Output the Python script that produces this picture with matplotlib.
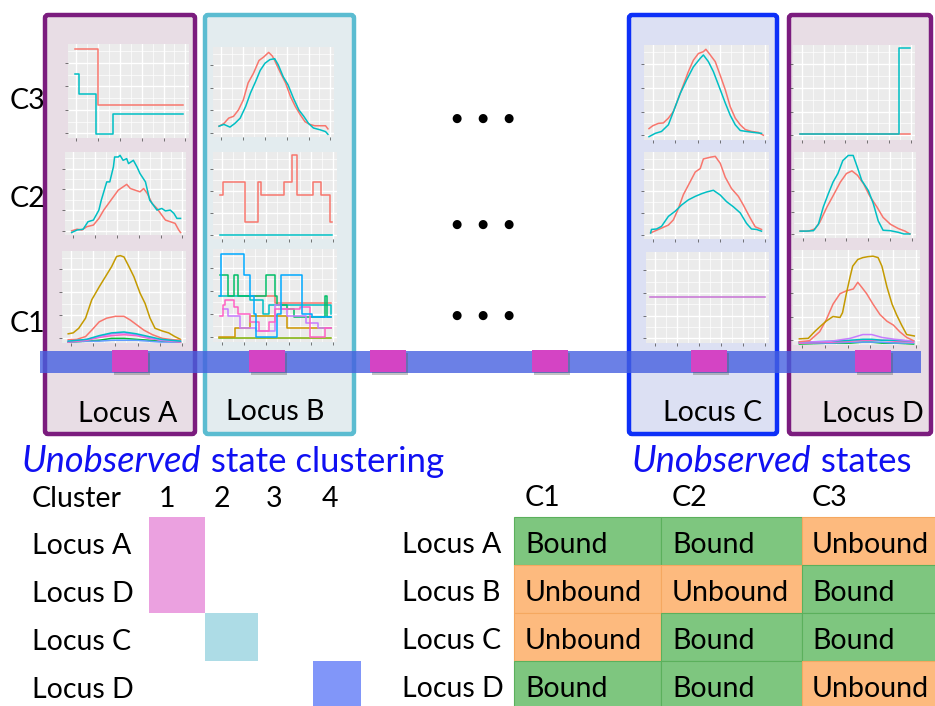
import matplotlib
matplotlib.use("Agg")
import matplotlib.pyplot as plt
from matplotlib.patches import Rectangle, FancyBboxPatch

plt.rcParams['font.family'] = ['Lato', 'DejaVu Sans']

W, H = 935, 706
RED = '#F8766D'
CYAN = '#00BFC4'

# ---------- data (x, y as fraction of panel) ----------
# Locus A
a3_red_x = [0.06, 0.25, 0.95]
a3_red_y = [0.95, 0.35, 0.35]
a3_cyan_x = [0.06, 0.09, 0.23, 0.37, 0.95]
a3_cyan_y = [0.68, 0.47, 0.04, 0.26, 0.26]

a2_cyan_x = [0.055, 0.10, 0.15, 0.19, 0.235, 0.28, 0.30, 0.345, 0.37, 0.40, 0.41, 0.44, 0.455, 0.48,
             0.51, 0.525, 0.565, 0.595, 0.62, 0.665, 0.70, 0.73, 0.76, 0.80, 0.83, 0.87, 0.90, 0.925, 0.955]
a2_cyan_y = [0.03, 0.06, 0.07, 0.16, 0.18, 0.30, 0.42, 0.64, 0.64, 0.82, 0.94, 0.94, 0.96, 0.90,
             0.92, 0.86, 0.90, 0.82, 0.74, 0.64, 0.42, 0.36, 0.30, 0.32, 0.29, 0.30, 0.26, 0.20, 0.20]
a2_red_x = [0.055, 0.10, 0.14, 0.18, 0.235, 0.28, 0.32, 0.36, 0.40, 0.44, 0.48, 0.51, 0.54, 0.58,
            0.62, 0.65, 0.68, 0.72, 0.76, 0.79, 0.83, 0.87, 0.91, 0.94, 0.955]
a2_red_y = [0.05, 0.07, 0.06, 0.10, 0.12, 0.20, 0.30, 0.38, 0.46, 0.54, 0.58, 0.61, 0.56, 0.54,
            0.52, 0.56, 0.50, 0.38, 0.32, 0.26, 0.18, 0.16, 0.14, 0.06, 0.03]

a1_gold_x = [0.05, 0.09, 0.135, 0.19, 0.24, 0.30, 0.35, 0.40, 0.44, 0.47, 0.50, 0.54, 0.58, 0.63,
             0.67, 0.71, 0.75, 0.81, 0.86, 0.91, 0.955]
a1_gold_y = [0.10, 0.11, 0.16, 0.27, 0.47, 0.61, 0.72, 0.83, 0.94, 0.95, 0.935, 0.83, 0.72, 0.54,
             0.43, 0.27, 0.16, 0.13, 0.11, 0.07, 0.04]
a1_red_x = [0.05, 0.12, 0.19, 0.24, 0.30, 0.36, 0.43, 0.50, 0.55, 0.60, 0.66, 0.73, 0.81, 0.90, 0.955]
a1_red_y = [0.035, 0.04, 0.07, 0.14, 0.23, 0.27, 0.29, 0.29, 0.25, 0.20, 0.14, 0.09, 0.05, 0.035, 0.03]
a1_small_x = [0.05, 0.2, 0.3, 0.4, 0.5, 0.6, 0.7, 0.8, 0.955]
a1_cyan_y = [0.02, 0.04, 0.08, 0.11, 0.12, 0.10, 0.07, 0.04, 0.02]
a1_purple_y = [0.02, 0.04, 0.07, 0.10, 0.11, 0.09, 0.06, 0.03, 0.02]
a1_pink_y = [0.01, 0.03, 0.06, 0.08, 0.09, 0.08, 0.05, 0.03, 0.01]
a1_green_y = [0.01, 0.02, 0.03, 0.05, 0.05, 0.04, 0.03, 0.02, 0.01]
a1_blue_y = [0.01, 0.02, 0.02, 0.03, 0.03, 0.03, 0.02, 0.01, 0.01]

# Locus B
b3_red_x = [0.05, 0.09, 0.13, 0.17, 0.21, 0.25, 0.29, 0.335, 0.38, 0.42, 0.46, 0.49, 0.51, 0.555,
            0.60, 0.64, 0.68, 0.72, 0.76, 0.80, 0.84, 0.885, 0.93, 0.95]
b3_red_y = [0.12, 0.15, 0.21, 0.23, 0.30, 0.41, 0.60, 0.71, 0.85, 0.89, 0.94, 0.90, 0.85, 0.72,
            0.60, 0.45, 0.34, 0.25, 0.17, 0.14, 0.125, 0.125, 0.125, 0.09]
b3_cyan_x = [0.05, 0.09, 0.14, 0.18, 0.225, 0.27, 0.31, 0.35, 0.39, 0.43, 0.47, 0.51, 0.54, 0.58,
             0.62, 0.665, 0.71, 0.75, 0.79, 0.83, 0.885, 0.93, 0.95]
b3_cyan_y = [0.12, 0.14, 0.11, 0.15, 0.21, 0.34, 0.49, 0.61, 0.74, 0.82, 0.86, 0.87, 0.80, 0.67,
             0.58, 0.43, 0.30, 0.23, 0.15, 0.10, 0.08, 0.06, 0.03]

b2_red_x = [0.06, 0.08, 0.26, 0.365, 0.39, 0.57, 0.635, 0.675, 0.805, 0.87, 0.94, 0.96]
b2_red_y = [0.51, 0.66, 0.20, 0.66, 0.51, 0.66, 0.96, 0.51, 0.66, 0.51, 0.20, 0.20]
b2_cyan_x = [0.06, 0.96]
b2_cyan_y = [0.05, 0.05]

b1_blue_x = [0.06, 0.065, 0.25, 0.30, 0.33, 0.35, 0.52, 0.55, 0.68, 0.72, 0.80, 0.95]
b1_blue_y = [0.49, 0.95, 0.72, 0.49, 0.30, 0.05, 0.30, 0.72, 0.72, 0.30, 0.27, 0.27]
b1_green_x = [0.06, 0.12, 0.17, 0.20, 0.25, 0.43, 0.50, 0.52, 0.60, 0.65, 0.90, 0.92, 0.95]
b1_green_y = [0.72, 0.49, 0.72, 0.49, 0.49, 0.72, 0.49, 0.40, 0.35, 0.27, 0.49, 0.27, 0.27]
b1_cyan_x = [0.05, 0.30, 0.40, 0.45, 0.60, 0.95]
b1_cyan_y = [0.49, 0.45, 0.30, 0.40, 0.40, 0.30]
b1_red_x = [0.34, 0.45, 0.50, 0.95]
b1_red_y = [0.50, 0.50, 0.42, 0.42]
b1_pink_x = [0.06, 0.08, 0.10, 0.17, 0.20, 0.30, 0.37, 0.45, 0.50, 0.70, 0.78, 0.90, 0.95]
b1_pink_y = [0.28, 0.40, 0.45, 0.38, 0.30, 0.22, 0.12, 0.22, 0.35, 0.38, 0.05, 0.15, 0.15]
b1_purple_x = [0.08, 0.12, 0.18, 0.22, 0.25, 0.35, 0.50, 0.55, 0.60, 0.75, 0.85, 0.95]
b1_purple_y = [0.35, 0.28, 0.28, 0.15, 0.15, 0.12, 0.40, 0.35, 0.28, 0.20, 0.15, 0.15]
b1_gold_x = [0.05, 0.16, 0.18, 0.28, 0.30, 0.43, 0.60, 0.95]
b1_gold_y = [0.05, 0.05, 0.15, 0.15, 0.28, 0.28, 0.15, 0.15]
b1_olive_x = [0.05, 0.95]
b1_olive_y = [0.04, 0.04]

# Locus C
c3_red_x = [0.04, 0.07, 0.115, 0.155, 0.195, 0.235, 0.275, 0.315, 0.355, 0.395, 0.435, 0.475, 0.495,
            0.53, 0.57, 0.61, 0.65, 0.69, 0.73, 0.77, 0.81, 0.86, 0.915, 0.955]
c3_red_y = [0.12, 0.15, 0.175, 0.18, 0.23, 0.30, 0.44, 0.58, 0.72, 0.84, 0.91, 0.93, 0.955,
            0.895, 0.825, 0.68, 0.53, 0.35, 0.23, 0.16, 0.11, 0.09, 0.08, 0.05]
c3_cyan_x = [0.04, 0.09, 0.14, 0.195, 0.25, 0.29, 0.34, 0.395, 0.45, 0.475, 0.515, 0.555, 0.61,
             0.65, 0.69, 0.73, 0.77, 0.82, 0.875, 0.94]
c3_cyan_y = [0.035, 0.07, 0.09, 0.16, 0.35, 0.49, 0.63, 0.77, 0.86, 0.895, 0.825, 0.72, 0.53,
             0.39, 0.26, 0.16, 0.10, 0.09, 0.08, 0.07]

c2_red_x = [0.053, 0.10, 0.14, 0.195, 0.235, 0.275, 0.315, 0.37, 0.41, 0.45, 0.475, 0.53, 0.57,
            0.61, 0.65, 0.70, 0.755, 0.795, 0.85, 0.89, 0.94]
c2_red_y = [0.07, 0.10, 0.125, 0.16, 0.22, 0.35, 0.51, 0.66, 0.77, 0.81, 0.92, 0.94, 0.95,
            0.87, 0.71, 0.58, 0.49, 0.39, 0.24, 0.14, 0.11]
c2_cyan_x = [0.053, 0.06, 0.10, 0.14, 0.195, 0.25, 0.30, 0.355, 0.41, 0.46, 0.50, 0.555, 0.61,
             0.66, 0.715, 0.77, 0.82, 0.86, 0.90, 0.94]
c2_cyan_y = [0.07, 0.11, 0.115, 0.145, 0.26, 0.32, 0.39, 0.45, 0.49, 0.52, 0.54, 0.56, 0.505,
             0.43, 0.37, 0.30, 0.18, 0.115, 0.11, 0.09]

c1_purple_x = [0.03, 0.97]
c1_purple_y = [0.505, 0.505]

# Locus D
d3_red_x = [0.055, 0.955]
d3_red_y = [0.063, 0.063]
d3_cyan_x = [0.055, 0.87, 0.955]
d3_cyan_y = [0.063, 0.965, 0.965]

d2_cyan_x = [0.05, 0.10, 0.16, 0.20, 0.24, 0.28, 0.32, 0.36, 0.40, 0.445, 0.485, 0.52, 0.555, 0.61,
             0.65, 0.69, 0.73, 0.79, 0.855, 0.90, 0.95]
d2_cyan_y = [0.08, 0.08, 0.085, 0.16, 0.36, 0.51, 0.65, 0.75, 0.90, 0.96, 0.96, 0.82, 0.67, 0.55,
             0.40, 0.20, 0.09, 0.085, 0.066, 0.047, 0.047]
d2_red_x = [0.05, 0.12, 0.17, 0.21, 0.27, 0.32, 0.38, 0.43, 0.475, 0.52, 0.57, 0.62, 0.68, 0.73,
            0.79, 0.855, 0.91, 0.95]
d2_red_y = [0.08, 0.08, 0.105, 0.18, 0.36, 0.49, 0.65, 0.75, 0.78, 0.73, 0.63, 0.49, 0.36, 0.24,
            0.16, 0.11, 0.08, 0.047]

d1_gold_x = [0.05, 0.12, 0.17, 0.21, 0.26, 0.315, 0.37, 0.39, 0.42, 0.45, 0.47, 0.51, 0.55, 0.59,
             0.63, 0.67, 0.70, 0.74, 0.78, 0.815, 0.855, 0.895, 0.935, 0.955]
d1_gold_y = [0.065, 0.07, 0.14, 0.19, 0.25, 0.30, 0.29, 0.34, 0.54, 0.72, 0.83, 0.90, 0.92, 0.93,
             0.935, 0.92, 0.83, 0.61, 0.43, 0.32, 0.21, 0.11, 0.10, 0.095]
d1_red_x = [0.05, 0.13, 0.21, 0.26, 0.315, 0.37, 0.42, 0.475, 0.51, 0.54, 0.58, 0.63, 0.685, 0.74,
            0.79, 0.84, 0.895, 0.95]
d1_red_y = [0.035, 0.045, 0.14, 0.26, 0.43, 0.54, 0.57, 0.59, 0.66, 0.61, 0.54, 0.43, 0.32, 0.25,
            0.21, 0.14, 0.08, 0.045]
d1_small_x = [0.05, 0.3, 0.45, 0.55, 0.62, 0.7, 0.8, 0.95]
d1_purple_y = [0.03, 0.04, 0.07, 0.11, 0.11, 0.08, 0.06, 0.04]
d1_cyan_y = [0.03, 0.04, 0.05, 0.06, 0.06, 0.05, 0.05, 0.04]
d1_pink_y = [0.02, 0.03, 0.04, 0.05, 0.05, 0.05, 0.04, 0.03]
d1_green_y = [0.01, 0.02, 0.02, 0.03, 0.03, 0.02, 0.02, 0.01]
d1_blue_y = [0.02, 0.02, 0.03, 0.03, 0.03, 0.03, 0.02, 0.02]

# ---------- tables ----------
cluster_labels = ['1', '2', '3', '4']
cluster_rows = ['Locus A', 'Locus D', 'Locus C', 'Locus D']
cluster_of_row = [1, 1, 2, 4]
cluster_colors = ['#EBA1E0', '#EBA1E0', '#ADDCE6', '#8196F9']

state_cols = ['C1', 'C2', 'C3']
state_rows = ['Locus A', 'Locus B', 'Locus C', 'Locus D']
states = [['Bound', 'Bound', 'Unbound'],
          ['Unbound', 'Unbound', 'Bound'],
          ['Unbound', 'Bound', 'Bound'],
          ['Bound', 'Bound', 'Unbound']]

# ---------- figure ----------
fig = plt.figure(figsize=(W / 100, H / 100), dpi=100)
ax = fig.add_axes([0, 0, 1, 1])
ax.set_xlim(0, W)
ax.set_ylim(H, 0)
ax.axis('off')

FS = 20.5

# locus boxes
boxes = [(45, 195, '#7B1C7E', '#E8DDE5', 'Locus A', 128, 422),
         (205, 354, '#5BBCD1', '#E3ECEF', 'Locus B', 275, 420),
         (629, 777, '#0D30F8', '#DCE0F3', 'Locus C', 713, 421),
         (789, 931, '#7B1C7E', '#E8DDE5', 'Locus D', 873, 422)]
for x0, x1, ec, fc, lab, tx, ty in boxes:
    ax.add_patch(FancyBboxPatch((x0, 15), x1 - x0, 419, boxstyle='round,pad=0,rounding_size=3',
                                fc=fc, ec=ec, lw=3.2, zorder=1))
    ax.text(tx, ty, lab, fontsize=FS, ha='center', va='baseline', zorder=5)

# genome bar with binding sites
ax.add_patch(Rectangle((40, 351), 881, 22, fc='#4660E0', alpha=0.8, lw=0, zorder=3))
for sx in [112, 249, 370, 532, 691, 855]:
    ax.add_patch(Rectangle((sx + 1.5, 352.5), 36, 22, fc='#555555', alpha=0.35, lw=0, zorder=3.5))
    ax.add_patch(Rectangle((sx, 350), 36, 22, fc='#D444C4', lw=0, zorder=4))

# C labels and ellipses
for lab, by, dy in [('C3', 109, 118), ('C2', 207, 224), ('C1', 332, 315)]:
    ax.text(10, by, lab, fontsize=FS, ha='left', va='baseline')
    for dx in [456, 482, 508]:
        ax.text(dx, dy, '\u25CF', family='DejaVu Sans', fontsize=8.5, ha='center', va='center')

# blue titles
BLUE = '#1010F2'
TFS = 25
t1 = ax.text(22, 472, 'Unobserved', fontsize=TFS + 1, style='italic', color=BLUE, va='baseline')
ax.annotate(' state clustering', xy=(1, 0), xycoords=t1, va='bottom', ha='left',
            fontsize=TFS, color=BLUE)
t2 = ax.text(632, 472, 'Unobserved', fontsize=TFS + 1, style='italic', color=BLUE, va='baseline')
ax.annotate(' states', xy=(1, 0), xycoords=t2, va='bottom', ha='left', fontsize=TFS, color=BLUE)

# cluster table
row_base = [554, 602, 650, 698]
row_top = [517, 565, 613, 661]
ax.text(32, 507, 'Cluster', fontsize=FS, va='baseline')
col_left = [149, 205, 258, 313]
col_w = [56, 53, 55, 48]
for lab, cx in zip(cluster_labels, [167, 222, 274, 330]):
    ax.text(cx, 507, lab, fontsize=FS, ha='center', va='baseline')
for i, (lab, c, col) in enumerate(zip(cluster_rows, cluster_of_row, cluster_colors)):
    ax.text(32, row_base[i], lab, fontsize=FS, va='baseline')
    ax.add_patch(Rectangle((col_left[c - 1], row_top[i]), col_w[c - 1], 48, fc=col, lw=0))

# state table
GREEN, ORANGE = '#7EC67F', '#FDBA7E'
sx_left = [514, 661, 802]
sx_w = [147, 141, 140]
sx_text = [525, 672, 812]
for j, lab in enumerate(state_cols):
    ax.text(sx_text[j], 506, lab, fontsize=FS, va='baseline')
for i, lab in enumerate(state_rows):
    ax.text(402, row_base[i] - 1, lab, fontsize=FS, va='baseline')
    for j in range(3):
        val = states[i][j]
        fc = GREEN if val == 'Bound' else ORANGE
        ec = '#5BB05C' if val == 'Bound' else '#F5A860'
        ax.add_patch(Rectangle((sx_left[j], row_top[i]), sx_w[j], 48, fc=fc, ec=ec, lw=0.8))
        ax.text(sx_text[j], row_base[i] - 1, val, fontsize=FS, va='baseline')


# ---------- thumbnail panels ----------
def panel(x0, y0, x1, y1, curves, step=False):
    m = fig.add_axes([x0 / W, 1 - y1 / H, (x1 - x0) / W, (y1 - y0) / H])
    m.set_facecolor('#EBEBEB')
    m.set_xlim(0, 1)
    m.set_ylim(0, 1)
    m.set_xticks([0.07, 0.25, 0.43, 0.61, 0.79, 0.97])
    m.set_xticks([0.16, 0.34, 0.52, 0.70, 0.88], minor=True)
    m.set_yticks([0.05, 0.30, 0.55, 0.80])
    m.set_yticks([0.175, 0.425, 0.675, 0.925], minor=True)
    m.grid(which='major', color='white', lw=1.0)
    m.grid(which='minor', color='white', lw=0.5)
    m.set_axisbelow(True)
    m.tick_params(which='major', length=2, width=0.5, color='#444444',
                  labelleft=False, labelbottom=False)
    m.tick_params(which='minor', length=0)
    for s in m.spines.values():
        s.set_visible(False)
    for x, y, c in curves:
        m.plot(x, y, color=c, lw=1.1, drawstyle='steps-post' if step else 'default')
    return m


panel(68, 44, 189, 138, [(a3_red_x, a3_red_y, RED), (a3_cyan_x, a3_cyan_y, CYAN)], step=True)
panel(65, 152, 186, 235, [(a2_red_x, a2_red_y, RED), (a2_cyan_x, a2_cyan_y, CYAN)])
panel(62, 251, 186, 343, [(a1_gold_x, a1_gold_y, '#C49A00'), (a1_red_x, a1_red_y, RED),
                          (a1_small_x, a1_green_y, '#00BA38'), (a1_small_x, a1_blue_y, '#619CFF'),
                          (a1_small_x, a1_pink_y, '#FF61C3'), (a1_small_x, a1_purple_y, '#C77CFF'),
                          (a1_small_x, a1_cyan_y, CYAN)])

panel(213, 47, 334, 137, [(b3_red_x, b3_red_y, RED), (b3_cyan_x, b3_cyan_y, CYAN)])
panel(213, 152, 337, 239, [(b2_red_x, b2_red_y, RED), (b2_cyan_x, b2_cyan_y, CYAN)], step=True)
panel(213, 249, 337, 342, [(b1_olive_x, b1_olive_y, '#7CAE00'), (b1_gold_x, b1_gold_y, '#CD9600'),
                           (b1_red_x, b1_red_y, RED), (b1_cyan_x, b1_cyan_y, CYAN),
                           (b1_green_x, b1_green_y, '#00BE67'), (b1_purple_x, b1_purple_y, '#C77CFF'),
                           (b1_pink_x, b1_pink_y, '#FF61C3'), (b1_blue_x, b1_blue_y, '#00A9FF')],
      step=True)

panel(644, 45, 769, 140, [(c3_red_x, c3_red_y, RED), (c3_cyan_x, c3_cyan_y, CYAN)])
panel(644, 152, 769, 239, [(c2_red_x, c2_red_y, RED), (c2_cyan_x, c2_cyan_y, CYAN)])
panel(646, 252, 769, 343, [(c1_purple_x, c1_purple_y, '#C772D6')])

panel(793, 45, 915, 140, [(d3_red_x, d3_red_y, RED), (d3_cyan_x, d3_cyan_y, CYAN)], step=True)
panel(794, 152, 916, 238, [(d2_red_x, d2_red_y, RED), (d2_cyan_x, d2_cyan_y, CYAN)])
panel(793, 250, 920, 345, [(d1_small_x, d1_green_y, '#00BA38'), (d1_small_x, d1_blue_y, '#619CFF'),
                           (d1_small_x, d1_pink_y, '#FF61C3'), (d1_small_x, d1_cyan_y, CYAN),
                           (d1_small_x, d1_purple_y, '#C77CFF'), (d1_red_x, d1_red_y, RED),
                           (d1_gold_x, d1_gold_y, '#C49A00')])

fig.savefig('out.png', dpi=100)
